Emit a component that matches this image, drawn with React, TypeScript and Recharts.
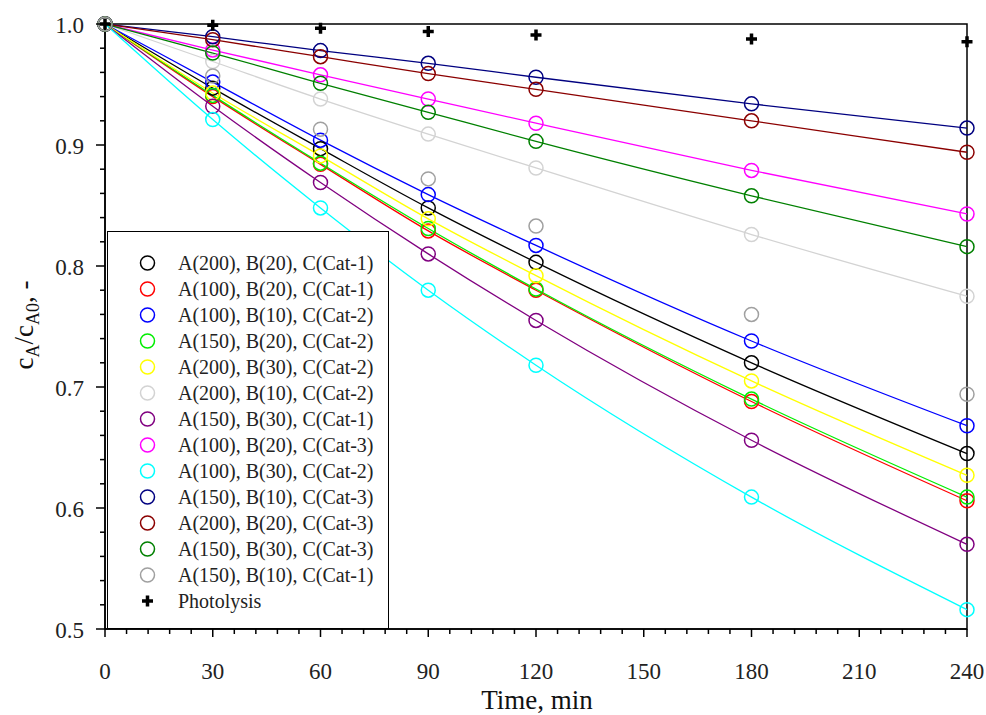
import React from 'react';
import { ComposedChart, Line, XAxis, YAxis, ReferenceArea } from 'recharts';

// sampling times, min
const TIME = [0, 30, 60, 90, 120, 180, 240];

// cA/cA0 per run
const A200_B20_CAT1 = [1, 0.947, 0.897, 0.848, 0.803, 0.72, 0.645];
const A100_B20_CAT1 = [1, 0.94, 0.884, 0.829, 0.78, 0.688, 0.606];
const A100_B10_CAT2 = [1, 0.952, 0.904, 0.859, 0.817, 0.738, 0.668];
const A150_B20_CAT2 = [1, 0.941, 0.885, 0.831, 0.781, 0.69, 0.609];
const A200_B30_CAT2 = [1, 0.943, 0.891, 0.839, 0.792, 0.705, 0.627];
const A200_B10_CAT2 = [1, 0.969, 0.938, 0.909, 0.881, 0.826, 0.775];
const A150_B30_CAT1 = [1, 0.932, 0.869, 0.81, 0.755, 0.656, 0.57];
const A100_B20_CAT3 = [1, 0.9785, 0.958, 0.938, 0.918, 0.879, 0.843];
const A100_B30_CAT2 = [1, 0.921, 0.848, 0.78, 0.718, 0.609, 0.516];
const A150_B10_CAT3 = [1, 0.9895, 0.978, 0.9675, 0.956, 0.934, 0.914];
const A200_B20_CAT3 = [1, 0.987, 0.973, 0.959, 0.946, 0.92, 0.894];
const A150_B30_CAT3 = [1, 0.976, 0.951, 0.927, 0.903, 0.858, 0.816];
const A150_B10_CAT1 = [1, 0.957, 0.913, 0.872, 0.833, 0.76, 0.694];
const PHOTOLYSIS = [1, 0.999, 0.9964, 0.9937, 0.991, 0.9876, 0.9854];

const X_MAJOR = [0, 30, 60, 90, 120, 150, 180, 210, 240];
const Y_MAJOR = [0.5, 0.6, 0.7, 0.8, 0.9, 1.0];

const SERIES = [
  { name: 'A(200), B(20), C(Cat-1)', color: '#000000', values: A200_B20_CAT1, line: true },
  { name: 'A(100), B(20), C(Cat-1)', color: '#ff0000', values: A100_B20_CAT1, line: true },
  { name: 'A(100), B(10), C(Cat-2)', color: '#0000ff', values: A100_B10_CAT2, line: true },
  { name: 'A(150), B(20), C(Cat-2)', color: '#00ee00', values: A150_B20_CAT2, line: true },
  { name: 'A(200), B(30), C(Cat-2)', color: '#ffff00', values: A200_B30_CAT2, line: true },
  { name: 'A(200), B(10), C(Cat-2)', color: '#d3d3d3', values: A200_B10_CAT2, line: true },
  { name: 'A(150), B(30), C(Cat-1)', color: '#800080', values: A150_B30_CAT1, line: true },
  { name: 'A(100), B(20), C(Cat-3)', color: '#ff00ff', values: A100_B20_CAT3, line: true },
  { name: 'A(100), B(30), C(Cat-2)', color: '#00ffff', values: A100_B30_CAT2, line: true },
  { name: 'A(150), B(10), C(Cat-3)', color: '#000080', values: A150_B10_CAT3, line: true },
  { name: 'A(200), B(20), C(Cat-3)', color: '#8b0000', values: A200_B20_CAT3, line: true },
  { name: 'A(150), B(30), C(Cat-3)', color: '#008000', values: A150_B30_CAT3, line: true },
  { name: 'A(150), B(10), C(Cat-1)', color: '#a0a0a0', values: A150_B10_CAT1, line: false },
];

const FONT = '"Liberation Serif", "Times New Roman", serif';

const data = TIME.map((t, i) => {
  const row: Record<string, number> = { t, photo: PHOTOLYSIS[i] };
  SERIES.forEach((s, k) => {
    row[`s${k}`] = s.values[i];
  });
  return row;
});

// minor ticks: 5 per 30 min, 5 per 0.1
const xTicks: number[] = [];
for (let i = 0; i < X_MAJOR.length - 1; i++) {
  for (let j = 0; j < 5; j++) xTicks.push(X_MAJOR[i] + (j * (X_MAJOR[i + 1] - X_MAJOR[i])) / 5);
}
xTicks.push(X_MAJOR[X_MAJOR.length - 1]);
const yTicks: number[] = [];
for (let i = 0; i < Y_MAJOR.length - 1; i++) {
  for (let j = 0; j < 5; j++) yTicks.push(+(Y_MAJOR[i] + (j * (Y_MAJOR[i + 1] - Y_MAJOR[i])) / 5).toFixed(3));
}
yTicks.push(Y_MAJOR[Y_MAJOR.length - 1]);

const XTick = (props: any) => {
  const { x, y, payload } = props;
  const v = payload.value;
  const major = X_MAJOR.includes(v);
  return (
    <g>
      <line x1={x} x2={x} y1={y} y2={y + (major ? 8 : 5)} stroke="#000" strokeWidth={1.5} />
      {major && (
        <text x={x} y={y + 50} textAnchor="middle" fontFamily={FONT} fontSize={23} fill="#222">
          {v}
        </text>
      )}
    </g>
  );
};

const YTick = (props: any) => {
  const { x, y, payload } = props;
  const v = payload.value;
  const major = Y_MAJOR.some((m) => Math.abs(m - v) < 1e-6);
  return (
    <g>
      <line x1={x - (major ? 9 : 5)} x2={x} y1={y} y2={y} stroke="#000" strokeWidth={1.5} />
      {major && (
        <text x={x - 21} y={y + 9} textAnchor="end" fontFamily={FONT} fontSize={23} fill="#222">
          {v.toFixed(1)}
        </text>
      )}
    </g>
  );
};

const PlusDot = (props: any) => {
  const { cx, cy, index } = props;
  return (
    <path
      key={`p-${index}`}
      d={`M${cx - 5.5},${cy}h11M${cx},${cy - 5.5}v11`}
      stroke="#000"
      strokeWidth={3.5}
      fill="none"
    />
  );
};

const YLabel = () => (
  <text transform="rotate(-90)" x={-325} y={33} textAnchor="middle" fontFamily={FONT} fontSize={27} fill="#111">
    c<tspan fontSize={18} dy={6}>A</tspan>
    <tspan dy={-6}>/c</tspan>
    <tspan fontSize={18} dy={6}>A0</tspan>
    <tspan dy={-6}>, -</tspan>
  </text>
);

const XLabel = () => (
  <text x={537} y={709} textAnchor="middle" fontFamily={FONT} fontSize={27} fill="#111">
    Time, min
  </text>
);

function LegendBox() {
  return (
    <div
      style={{
        position: 'absolute',
        left: 107,
        top: 231,
        width: 280,
        height: 396,
        border: '1.5px solid #000',
        background: '#fff',
        fontFamily: FONT,
        fontSize: 20,
        color: '#222',
      }}
    >
      {[...SERIES.map((s) => ({ name: s.name, color: s.color, plus: false })), { name: 'Photolysis', color: '#000', plus: true }].map(
        (item, i) => (
          <div key={item.name} style={{ position: 'absolute', left: 0, top: 31 + 26 * i - 13, height: 26, display: 'flex', alignItems: 'center' }}>
            <svg width={80} height={26} style={{ display: 'block' }}>
              {item.plus ? (
                <path d="M34,13h11M39.5,7.5v11" stroke="#000" strokeWidth={3.5} />
              ) : (
                <circle cx={39.5} cy={13} r={7} stroke={item.color} strokeWidth={1.5} fill="none" />
              )}
            </svg>
            <span style={{ marginLeft: -10, whiteSpace: 'nowrap' }}>{item.name}</span>
          </div>
        ),
      )}
    </div>
  );
}

export default function App() {
  return (
    <div style={{ position: 'fixed', left: 0, top: 0, width: 986, height: 715, background: '#fff' }}>
      <ComposedChart width={986} height={715} data={data} margin={{ top: 24, right: 19, left: 0, bottom: 0 }}>
        <XAxis
          dataKey="t"
          type="number"
          domain={[0, 240]}
          ticks={xTicks}
          interval={0}
          height={86}
          tickSize={0}
          tickMargin={0}
          tickLine={false}
          tick={<XTick />}
          axisLine={{ stroke: '#000', strokeWidth: 1.5 }}
          label={<XLabel />}
        />
        <YAxis
          type="number"
          domain={[0.5, 1]}
          ticks={yTicks}
          interval={0}
          width={105}
          tickSize={0}
          tickMargin={0}
          tickLine={false}
          tick={<YTick />}
          axisLine={{ stroke: '#000', strokeWidth: 1.5 }}
          label={<YLabel />}
        />
        <ReferenceArea x1={0} x2={240} y1={0.5} y2={1} fill="none" stroke="#000" strokeWidth={1.5} fillOpacity={0} />
        {SERIES.map((s, k) => (
          <Line
            key={s.name}
            dataKey={`s${k}`}
            type="monotone"
            stroke={s.line ? s.color : 'none'}
            strokeWidth={1.3}
            dot={{ r: 7, stroke: s.color, strokeWidth: 1.5, fill: 'none' }}
            activeDot={false}
            isAnimationActive={false}
          />
        ))}
        <Line dataKey="photo" stroke="none" dot={<PlusDot />} activeDot={false} isAnimationActive={false} />
      </ComposedChart>
      <LegendBox />
    </div>
  );
}
